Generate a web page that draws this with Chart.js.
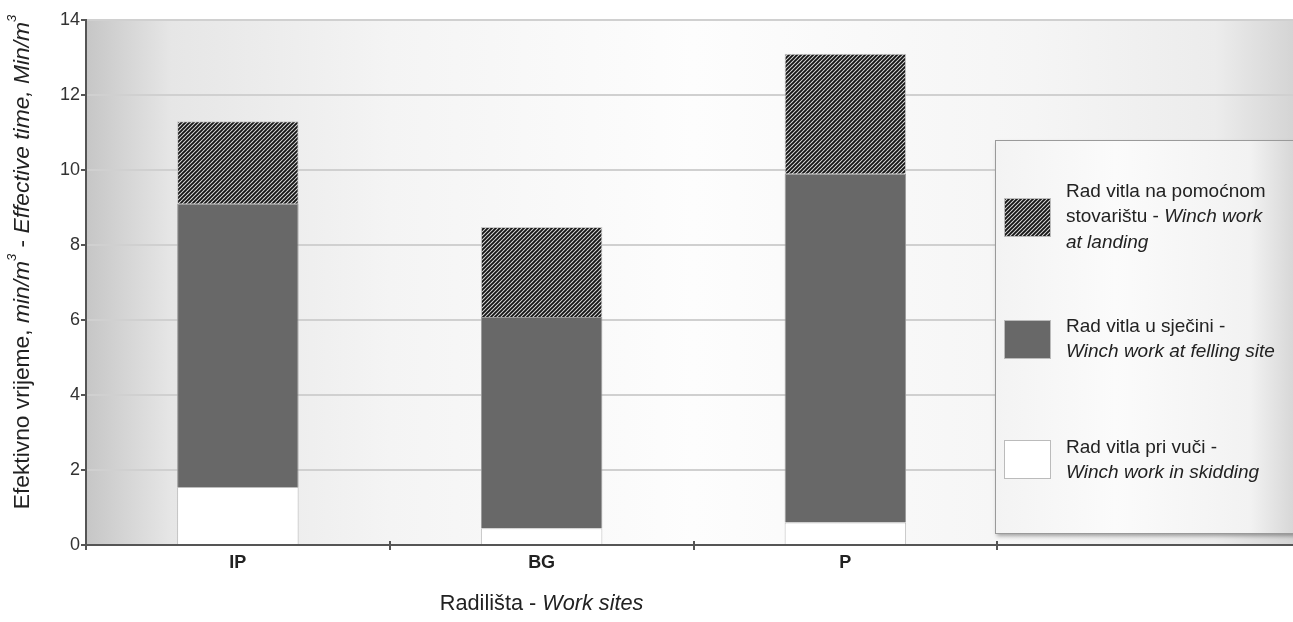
<!DOCTYPE html>
<html>
<head>
<meta charset="utf-8">
<script src="https://cdn.jsdelivr.net/npm/chart.js@4.4.1/dist/chart.umd.min.js"></script>
<style>
  html, body { margin: 0; padding: 0; background: #fff; overflow: hidden; }
  #wrap { width: 1301px; height: 622px; position: relative; }
</style>
</head>
<body>
<div id="wrap"><canvas id="winchChart"></canvas></div>
<script>
// data //
const sites = ['IP', 'BG', 'P', ''];
const skidding = [1.55, 0.45, 0.6, null];   // Rad vitla pri vuči
const felling = [7.55, 5.63, 9.3, null];    // Rad vitla u sječini
const landing = [2.2, 2.4, 3.2, null];      // Rad vitla na pomoćnom stovarištu
const yMin = 0, yMax = 14, yStep = 2;

const seriesNames = ['Rad vitla pri vuči', 'Rad vitla u sječini', 'Rad vitla na pomoćnom stovarištu'];

// legend text, [text, italic] pieces per line (top item first)
const legendText = [
  [[['Rad vitla na pomoćnom', false]], [['stovarištu - ', false], ['Winch work', true]], [['at landing', true]]],
  [[['Rad vitla u sječini -', false]], [['Winch work at felling site', true]]],
  [[['Rad vitla pri vuči -', false]], [['Winch work in skidding', true]]]
];
const yTitle = [['Efektivno vrijeme, ', false], ['min/m', true], ['3', 'sup'], [' - ', false], ['Effective time, Min/m', true], ['3', 'sup']];
const xTitle = [['Radilišta - ', false], ['Work sites', true]];

const FONT = '"Liberation Sans", Arial, Helvetica, sans-serif';

// hatch for the top segment //
function makeHatch() {
  const c = document.createElement('canvas');
  c.width = 4; c.height = 4;
  const g = c.getContext('2d');
  g.fillStyle = '#d9d9d9';
  g.fillRect(0, 0, 4, 4);
  g.strokeStyle = '#151515';
  g.lineWidth = 1.9;
  g.beginPath();
  g.moveTo(-1, 5); g.lineTo(5, -1);
  g.moveTo(-3, 3); g.lineTo(3, -3);
  g.moveTo(1, 7); g.lineTo(7, 1);
  g.stroke();
  return g.createPattern(c, 'repeat');
}
const hatch = makeHatch();

function drawPieces(ctx, pieces, x, y, size) {
  let cx = x;
  pieces.forEach(([txt, st]) => {
    if (st === 'sup') {
      ctx.font = 'italic ' + Math.round(size * 0.55) + 'px ' + FONT;
      ctx.fillText(txt, cx, y - size * 0.45);
    } else {
      ctx.font = (st ? 'italic ' : '') + size + 'px ' + FONT;
      ctx.fillText(txt, cx, y);
    }
    cx += ctx.measureText(txt).width;
  });
  return cx - x;
}
function piecesWidth(ctx, pieces, size) {
  let w = 0;
  pieces.forEach(([txt, st]) => {
    if (st === 'sup') ctx.font = 'italic ' + Math.round(size * 0.55) + 'px ' + FONT;
    else ctx.font = (st ? 'italic ' : '') + size + 'px ' + FONT;
    w += ctx.measureText(txt).width;
  });
  return w;
}

const plotBackground = {
  id: 'plotBackground',
  beforeDraw(chart) {
    const { ctx, chartArea: a } = chart;
    const grd = ctx.createLinearGradient(a.left, 0, a.right, 0);
    grd.addColorStop(0, '#c6c6c6');
    grd.addColorStop(0.07, '#e6e6e6');
    grd.addColorStop(0.25, '#f4f4f4');
    grd.addColorStop(0.5, '#fdfdfd');
    grd.addColorStop(0.78, '#f5f5f5');
    grd.addColorStop(0.93, '#ececec');
    grd.addColorStop(1, '#d2d2d2');
    ctx.save();
    ctx.fillStyle = grd;
    ctx.fillRect(a.left, a.top, a.right - a.left, a.bottom - a.top);
    ctx.restore();
  }
};

const extras = {
  id: 'extras',
  afterDraw(chart) {
    const { ctx } = chart;
    const x = chart.scales.x;
    ctx.save();
    ctx.fillStyle = '#222';
    ctx.textBaseline = 'middle';
    ctx.textAlign = 'left';

    // y title, rotated
    const ySize = 22.8;
    const yw = piecesWidth(ctx, yTitle, ySize);
    ctx.save();
    ctx.translate(23, 262);
    ctx.rotate(-Math.PI / 2);
    drawPieces(ctx, yTitle, -yw / 2, 0, ySize);
    ctx.restore();

    // x title, under the middle site
    const xs = 21.7;
    const xw = piecesWidth(ctx, xTitle, xs);
    drawPieces(ctx, xTitle, x.getPixelForValue(1) - xw / 2, 604, xs);

    // x ticks crossing the axis line
    ctx.strokeStyle = '#555';
    ctx.lineWidth = 2;
    for (let i = 1; i < sites.length; i++) {
      const px = Math.round((x.getPixelForValue(i - 1) + x.getPixelForValue(i)) / 2);
      ctx.beginPath();
      ctx.moveTo(px, x.top - 4);
      ctx.lineTo(px, x.top);
      ctx.stroke();
    }

    // legend box
    const bx = 995, by = 140, bw = 300, bh = 393;
    ctx.save();
    ctx.shadowColor = 'rgba(0,0,0,0.35)';
    ctx.shadowBlur = 4;
    ctx.shadowOffsetX = 2;
    ctx.shadowOffsetY = 3;
    const lg = ctx.createLinearGradient(bx, 0, bx + bw, 0);
    lg.addColorStop(0, '#f3f3f3');
    lg.addColorStop(0.4, '#fbfbfb');
    lg.addColorStop(0.85, '#f2f2f2');
    lg.addColorStop(1, '#d6d6d6');
    ctx.fillStyle = lg;
    ctx.fillRect(bx, by, bw, bh);
    ctx.restore();
    ctx.strokeStyle = '#9a9a9a';
    ctx.lineWidth = 1;
    ctx.strokeRect(bx + 0.5, by + 0.5, bw, bh);

    const sw = [
      { fill: hatch, y: 198 },
      { fill: '#686868', y: 320 },
      { fill: '#ffffff', y: 440 }
    ];
    const lineY = [[192, 217, 243], [327, 352], [448, 473]];
    sw.forEach((s, i) => {
      ctx.fillStyle = s.fill;
      ctx.fillRect(1004, s.y, 46, 38);
      ctx.strokeStyle = '#bbbbbb';
      ctx.strokeRect(1004.5, s.y + 0.5, 46, 38);
      ctx.fillStyle = '#222';
      legendText[i].forEach((line, j) => {
        drawPieces(ctx, line, 1066, lineY[i][j], 19);
      });
    });
    ctx.restore();
  }
};

document.addEventListener('DOMContentLoaded', () => {
  const ctx = document.querySelector('#winchChart').getContext('2d');
  new Chart(ctx, {
    type: 'bar',
    data: {
      labels: sites,
      datasets: [
        { label: seriesNames[0], data: skidding, backgroundColor: '#ffffff', borderColor: '#bdbdbd', borderWidth: 1 },
        { label: seriesNames[1], data: felling, backgroundColor: '#686868', borderColor: '#9a9a9a', borderWidth: 1 },
        { label: seriesNames[2], data: landing, backgroundColor: hatch, borderColor: '#c8c8c8', borderWidth: 1 }
      ]
    },
    options: {
      responsive: true,
      maintainAspectRatio: false,
      animation: false,
      layout: { padding: { top: 20, right: 0, left: 0, bottom: 0 } },
      datasets: { bar: { barPercentage: 0.4, categoryPercentage: 1 } },
      plugins: {
        legend: { display: false },
        tooltip: { enabled: false }
      },
      scales: {
        x: {
          stacked: true,
          grid: { offset: true, drawOnChartArea: false, color: '#555', lineWidth: 2, tickLength: 5 },
          border: { color: '#555', width: 2 },
          ticks: { color: '#222', padding: 2, font: { family: FONT, size: 18, weight: 'bold' } },
          afterFit(s) { s.height = 77; }
        },
        y: {
          stacked: true,
          min: yMin,
          max: yMax,
          ticks: { stepSize: yStep, color: '#333', padding: 1, font: { family: FONT, size: 18 } },
          grid: { color: '#d0d0d0', lineWidth: 2, tickColor: '#555', tickLength: 5 },
          border: { color: '#555', width: 2 },
          afterFit(s) { s.width = 86; }
        }
      }
    },
    plugins: [plotBackground, extras]
  });
});
</script>
</body>
</html>
